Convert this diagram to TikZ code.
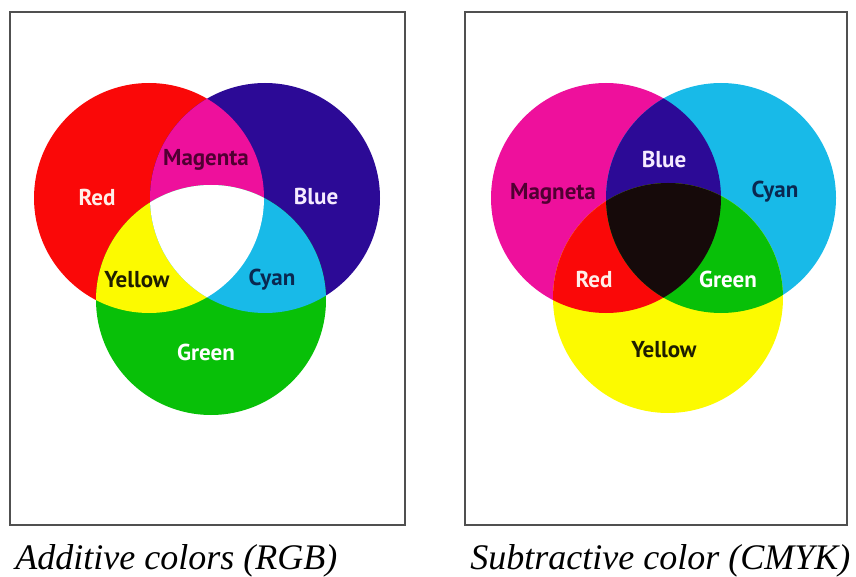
\documentclass[tikz,border=0pt]{standalone}
\usepackage{fontspec}
\setmainfont{Liberation Serif}
\newfontfamily\labelfont{PT Sans}

\definecolor{framegray}{RGB}{80,80,80}
\definecolor{rgbred}{RGB}{250,8,8}
\definecolor{rgbblue}{RGB}{44,10,150}
\definecolor{rgbgreen}{RGB}{8,192,8}
\definecolor{inkmagenta}{RGB}{238,16,156}
\definecolor{inkcyan}{RGB}{24,186,232}
\definecolor{inkyellow}{RGB}{252,250,0}
\definecolor{inkblack}{RGB}{22,10,10}
\definecolor{darkplum}{RGB}{80,0,50}
\definecolor{darknavy}{RGB}{10,40,80}
\definecolor{darkolive}{RGB}{30,30,0}
\definecolor{lightlav}{RGB}{245,235,255}
\definecolor{lightpink}{RGB}{255,238,232}

\begin{document}
\begin{tikzpicture}[x=0.5pt, y=-0.5pt,
    panel/.style={draw=framegray, line width=0.75pt},
    lbl/.style={font=\labelfont\bfseries\fontsize{11.5}{13}\selectfont, inner sep=0pt},
    caption/.style={font=\itshape\fontsize{18}{21}\selectfont, anchor=base west, inner sep=0pt}]

  \useasboundingbox (0,0) rectangle (856,577);

  % frames
  \draw[panel] (10,12)  rectangle (405,525);
  \draw[panel] (465,12) rectangle (847,525);

  % additive circles
  \fill[rgbred]   (149,198) circle (115);
  \fill[rgbblue]  (265,198) circle (115);
  \fill[rgbgreen] (211,300) circle (115);
  \begin{scope}
    \clip (149,198) circle (115);
    \fill[inkmagenta] (265,198) circle (115);
    \fill[inkyellow]  (211,300) circle (115);
  \end{scope}
  \begin{scope}
    \clip (265,198) circle (115);
    \fill[inkcyan] (211,300) circle (115);
  \end{scope}
  \begin{scope}
    \clip (149,198) circle (115);
    \clip (265,198) circle (115);
    \fill[white] (211,300) circle (115);
  \end{scope}

  % subtractive circles
  \fill[inkmagenta] (606,198) circle (115);
  \fill[inkcyan]    (721,198) circle (115);
  \fill[inkyellow]  (668,298) circle (115);
  \begin{scope}
    \clip (606,198) circle (115);
    \fill[rgbblue] (721,198) circle (115);
    \fill[rgbred]  (668,298) circle (115);
  \end{scope}
  \begin{scope}
    \clip (721,198) circle (115);
    \fill[rgbgreen] (668,298) circle (115);
  \end{scope}
  \begin{scope}
    \clip (606,198) circle (115);
    \clip (721,198) circle (115);
    \fill[inkblack] (668,298) circle (115);
  \end{scope}

  % additive labels
  \node[lbl, lightpink] (aRed)     at (97,197)  {Red};
  \node[lbl, darkplum]  (aMagenta) at (206,160) {Magenta};
  \node[lbl, lightlav]  (aBlue)    at (316,196) {Blue};
  \node[lbl, darkolive] (aYellow)  at (137,280) {Yellow};
  \node[lbl, darknavy]  (aCyan)    at (272,280) {Cyan};
  \node[lbl, white]     (aGreen)   at (206,352) {Green};

  % subtractive labels
  \node[lbl, lightlav]  (sBlue)    at (664,159) {Blue};
  \node[lbl, darkplum]  (sMagneta) at (553,194) {Magneta};
  \node[lbl, darknavy]  (sCyan)    at (775,192) {Cyan};
  \node[lbl, lightpink] (sRed)     at (594,279) {Red};
  \node[lbl, white]     (sGreen)   at (728,279) {Green};
  \node[lbl, darkolive] (sYellow)  at (664,350) {Yellow};

  % captions
  \node[caption] (capAdd) at (15,569)  {Additive colors (RGB)};
  \node[caption] (capSub) at (470,569) {Subtractive color (CMYK)};

\end{tikzpicture}
\end{document}
